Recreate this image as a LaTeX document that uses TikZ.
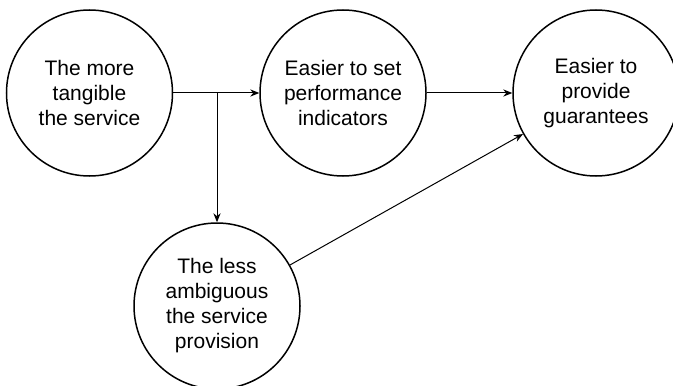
\documentclass[tikz,border=0pt]{standalone}
\usepackage{fontspec}
\setmainfont{Liberation Sans}
\usetikzlibrary{arrows.meta,positioning}

\begin{document}
\begin{tikzpicture}[
  x=0.5pt, y=0.5pt,
  idea/.style={circle, draw, line width=0.75pt, minimum size=83pt, inner sep=0pt,
               font=\fontsize{10.5}{12.5}\selectfont, align=center},
  arrow/.style={-{Stealth[length=4.5pt, width=3.6pt]}, line width=0.5pt},
]
\useasboundingbox (0,0) rectangle (673,-385);
\clip (0,0) rectangle (673,-385);

\node[idea] (tangible) at (89.5, -93) {The more\\tangible\\the service};
\node[idea] (indicators) at (343, -93) {Easier to set\\performance\\indicators};
\node[idea] (guarantees) at (596, -93) {Easier to\\provide\\guarantees};
\node[idea] (ambiguous) at (217, -306) {The less\\ambiguous\\the service\\provision};

\coordinate (split) at (217, -93);

\draw[arrow] (tangible) -- (indicators);
\draw[arrow] (split) -- (ambiguous);
\draw[arrow] (indicators) -- (guarantees);
\draw[arrow] (ambiguous) -- (guarantees);

\end{tikzpicture}
\end{document}
